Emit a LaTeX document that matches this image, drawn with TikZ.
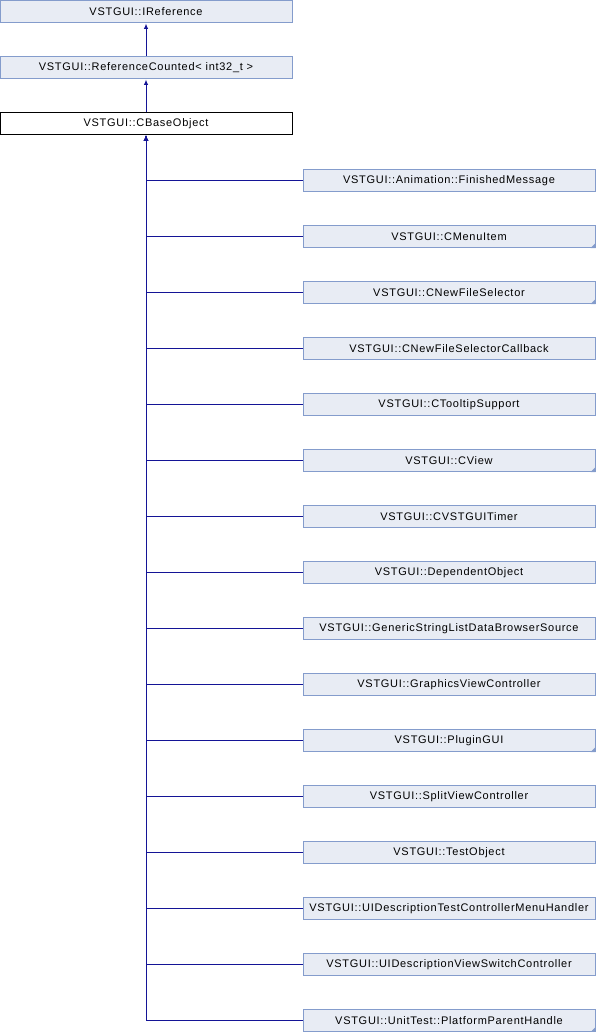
\documentclass[tikz,border=0pt]{standalone}
\usepackage{fontspec}
\setmainfont[LetterSpace=6.5]{Liberation Sans}
\usetikzlibrary{arrows.meta}
\definecolor{clsfill}{RGB}{232,236,244}
\definecolor{clsline}{RGB}{132,156,204}
\definecolor{inhblue}{RGB}{20,20,150}

\begin{document}
\begin{tikzpicture}[x=1pt,y=-1pt,
    cls/.style={draw=clsline,fill=clsfill,line width=1pt,minimum width=292pt,
        minimum height=22pt,inner sep=0pt,font={\fontsize{11}{13}\selectfont}},
    base/.style={cls,draw=black,fill=white},
    inh/.style={inhblue,line width=1pt,<-,>={Latex[length=5.5pt,width=4.5pt]}}]
\useasboundingbox (0,0) rectangle (596,1032);
%\draw[red](0,0) rectangle (596,1032);
\node[cls] (iref) at (146,12) {VSTGUI::IReference};
\node[cls] (refc) at (146,68) {VSTGUI::ReferenceCounted< int32\_t >};
\node[base] (cbase) at (146,124) {VSTGUI::CBaseObject};
\draw[inh] (iref) -- (refc);
\draw[inh] (refc) -- (cbase);

\foreach \n/\t [count=\i from 0] in {
    anim/VSTGUI::Animation::FinishedMessage,
    cmenu/VSTGUI::CMenuItem,
    cnfs/VSTGUI::CNewFileSelector,
    cnfscb/VSTGUI::CNewFileSelectorCallback,
    ctip/VSTGUI::CTooltipSupport,
    cview/VSTGUI::CView,
    ctimer/VSTGUI::CVSTGUITimer,
    depobj/VSTGUI::DependentObject,
    gsl/VSTGUI::GenericStringListDataBrowserSource,
    gvc/VSTGUI::GraphicsViewController,
    plug/VSTGUI::PluginGUI,
    svc/VSTGUI::SplitViewController,
    tobj/VSTGUI::TestObject,
    uimenu/VSTGUI::UIDescriptionTestControllerMenuHandler,
    uiswitch/VSTGUI::UIDescriptionViewSwitchController,
    ppar/VSTGUI::UnitTest::PlatformParentHandle}
{
\node[cls] (\n) at (449,180.5+56*\i) {\t};
\draw[inh] (cbase) |- (\n);
}

% classes with further children
\foreach \n in {cmenu,cnfs,cview,plug,ppar}
\fill[clsline] (\n.south east) -- ++(-5,0) -- ++(5,-5) -- cycle;
\end{tikzpicture}
\end{document}
